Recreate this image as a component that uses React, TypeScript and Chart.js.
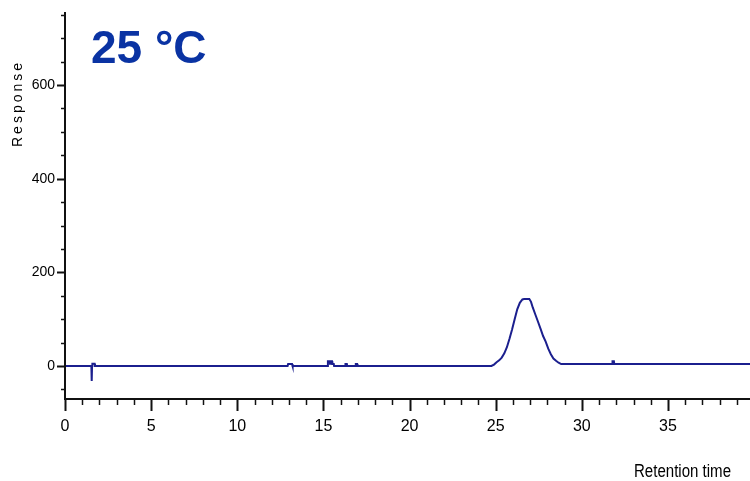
import React, { useEffect, useRef } from 'react';
import { Chart, registerables } from 'chart.js';

Chart.register(...registerables);

// Chromatogram trace: retention time (min) and detector response
const retentionTime = [
  0, 1.53, 1.55, 1.57, 1.58, 1.6, 1.72, 1.74,
  12.92, 12.95, 13.18, 13.21,
  15.24, 15.26, 15.36, 15.38, 15.42, 15.44, 15.5, 15.52, 15.6, 15.62,
  16.26, 16.28, 16.36, 16.38,
  16.86, 16.88, 16.96, 16.98,
  24.75, 24.9, 25.05, 25.2, 25.35, 25.5, 25.65, 25.8, 25.95, 26.1, 26.25, 26.4, 26.55, 26.65,
  26.95, 27.05, 27.15, 27.3, 27.45, 27.6, 27.75, 27.9, 28.05, 28.2, 28.35, 28.5, 28.65, 28.8,
  31.76, 31.78, 31.86, 31.88,
  39.8,
];
const response = [
  0, 0, -32, 0, 0, 5, 5, 0,
  0, 4, 4, 0,
  0, 10, 10, 5, 5, 10, 10, 4, 4, 0,
  0, 4, 4, 0,
  0, 4, 4, 0,
  0, 3, 8, 12, 18, 27, 40, 58, 78, 100, 121, 135, 142, 143,
  143, 137, 125, 110, 95, 80, 64, 52, 37, 25, 16, 11, 7, 4,
  4, 10, 10, 4,
  4,
];

const xTickValues = [0, 5, 10, 15, 20, 25, 30, 35];
const yTickValues = [0, 200, 400, 600];
const xMinorStep = 1;
const yMinorStep = 50;
const xRange = [0, 39.76];
const yRange = [-70.5, 756];

const titleText = '25 °C';
const xAxisTitle = 'Retention time';
const yAxisTitle = 'Response';

const lineColor = '#1b1f8e';
const titleColor = '#0a33a3';
const regularFont = '"Liberation Sans", Arial, sans-serif';

// Axis lines, major/minor tick marks and free-standing labels
const axisDecor = {
  id: 'axisDecor',
  afterDraw(chart: any) {
    const { ctx, chartArea, scales } = chart;
    const xs = scales.x;
    const ys = scales.y;
    ctx.save();
    ctx.strokeStyle = '#111';
    ctx.lineCap = 'butt';

    // axis lines
    ctx.lineWidth = 2;
    ctx.beginPath();
    ctx.moveTo(chartArea.left, chartArea.top);
    ctx.lineTo(chartArea.left, chartArea.bottom);
    ctx.lineTo(chartArea.right, chartArea.bottom);
    ctx.stroke();

    // x ticks
    for (let v = xRange[0]; v <= xRange[1] + 1e-9; v += xMinorStep) {
      const major = xTickValues.includes(v);
      const px = Math.round(xs.getPixelForValue(v)) + 0.5;
      ctx.lineWidth = major ? 2 : 1.5;
      ctx.beginPath();
      ctx.moveTo(px, chartArea.bottom);
      ctx.lineTo(px, chartArea.bottom + (major ? 12 : 6));
      ctx.stroke();
    }

    // y ticks
    const yStart = Math.ceil(yRange[0] / yMinorStep) * yMinorStep;
    for (let v = yStart; v <= yRange[1]; v += yMinorStep) {
      const major = yTickValues.includes(v);
      const py = Math.round(ys.getPixelForValue(v)) + 0.5;
      ctx.lineWidth = major ? 2 : 1.5;
      ctx.beginPath();
      ctx.moveTo(chartArea.left, py);
      ctx.lineTo(chartArea.left - (major ? 8 : 4), py);
      ctx.stroke();
    }

    // title
    ctx.fillStyle = titleColor;
    ctx.font = `bold 46px ${regularFont}`;
    ctx.textAlign = 'left';
    ctx.textBaseline = 'alphabetic';
    ctx.fillText(titleText, 91, 63);

    // x axis title, condensed to a fixed width
    ctx.fillStyle = '#000';
    ctx.font = `18px ${regularFont}`;
    ctx.textAlign = 'left';
    const w = ctx.measureText(xAxisTitle).width;
    ctx.save();
    ctx.translate(634, 477);
    ctx.scale(97 / w, 1);
    ctx.fillText(xAxisTitle, 0, 0);
    ctx.restore();

    // y axis title (rotated, spaced letters)
    ctx.translate(22, 105);
    ctx.rotate(-Math.PI / 2);
    ctx.font = `14px ${regularFont}`;
    (ctx as any).letterSpacing = '3px';
    ctx.textAlign = 'center';
    ctx.fillText(yAxisTitle, 1.5, 0);
    ctx.restore();
  },
};

export default function App() {
  const canvasRef = useRef<HTMLCanvasElement | null>(null);

  useEffect(() => {
    const canvas = canvasRef.current;
    if (!canvas) return;
    const points = retentionTime.map((t, i) => ({ x: t, y: response[i] }));
    const chart = new Chart(canvas, {
      type: 'line',
      data: {
        datasets: [
          {
            data: points,
            borderColor: lineColor,
            borderWidth: 2,
            pointRadius: 0,
            tension: 0,
            fill: false,
          },
        ],
      },
      options: {
        animation: false,
        responsive: false,
        maintainAspectRatio: false,
        layout: { padding: { top: 12, right: 0, left: 0, bottom: 0 } },
        plugins: { legend: { display: false }, tooltip: { enabled: false } },
        scales: {
          x: {
            type: 'linear',
            min: xRange[0],
            max: xRange[1],
            afterBuildTicks: (s: any) => {
              s.ticks = xTickValues.map((v) => ({ value: v }));
            },
            afterFit: (s: any) => {
              s.height = 82;
              s.paddingLeft = 0;
              s.paddingRight = 0;
            },
            grid: { display: false, drawTicks: false },
            border: { display: false },
            ticks: {
              padding: 18,
              color: '#000',
              maxRotation: 0,
              autoSkip: false,
              font: { family: regularFont, size: 16 },
            },
          },
          y: {
            type: 'linear',
            min: yRange[0],
            max: yRange[1],
            afterBuildTicks: (s: any) => {
              s.ticks = yTickValues.map((v) => ({ value: v }));
            },
            afterFit: (s: any) => {
              s.width = 65;
              s.paddingTop = 0;
              s.paddingBottom = 0;
            },
            grid: { display: false, drawTicks: false },
            border: { display: false },
            ticks: {
              padding: 10,
              color: '#000',
              font: { family: regularFont, size: 14 },
            },
          },
        },
      },
      plugins: [axisDecor],
    });
    return () => chart.destroy();
  }, []);

  return (
    <div style={{ position: 'fixed', left: 0, top: 0, width: 750, height: 481, background: '#fff' }}>
      <canvas ref={canvasRef} width={750} height={481} style={{ display: 'block' }} />
    </div>
  );
}
